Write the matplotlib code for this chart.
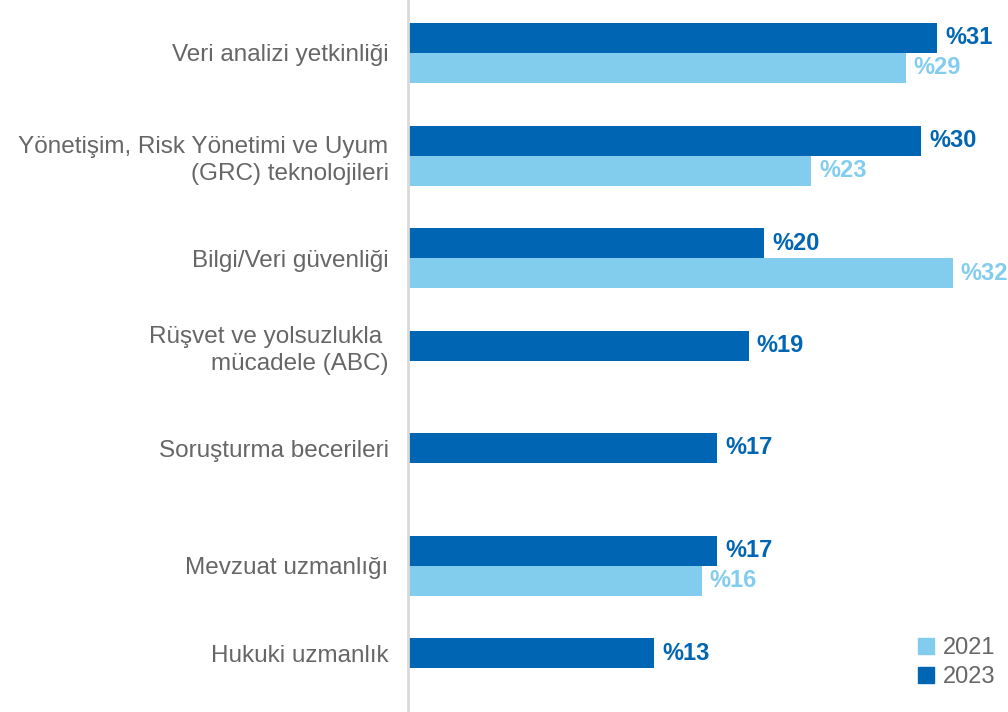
import numpy as np
import matplotlib.pyplot as plt
from matplotlib.patches import Patch

categories = [
    'Veri analizi yetkinliği',
    'Yönetişim, Risk Yönetimi ve Uyum\n(GRC) teknolojileri',
    'Bilgi/Veri güvenliği',
    'Rüşvet ve yolsuzlukla \nmücadele (ABC)',
    'Soruşturma becerileri',
    'Mevzuat uzmanlığı',
    'Hukuki uzmanlık',
]
vals_2023 = [31, 30, 20, 19, 17, 17, 13]
vals_2021 = [29, 23, 32, np.nan, np.nan, 16, np.nan]

c23 = '#0066b3'
c21 = '#82cdee'
gray = '#666666'
plt.rcParams['font.family'] = ['Liberation Sans', 'DejaVu Sans']

fig = plt.figure(figsize=(10.08, 7.12), dpi=100)
ax = fig.add_axes([408 / 1008, 0, 600 / 1008, 1])

# the value axis does not start at zero: bars start at the left edge
x0 = -2.7
centers = 53 + 102.5 * np.arange(len(categories))
h = 30
y23 = centers - h / 2
y21 = centers + h / 2

w23 = np.array(vals_2023, dtype=float) - x0
w21 = np.array(vals_2021, dtype=float) - x0
ax.barh(y23, w23, left=x0, height=h, color=c23)
ax.barh(y21, w21, left=x0, height=h, color=c21)

for y, v in zip(y23, vals_2023):
    ax.text(v + 0.5, y, f'%{v}', color=c23, fontsize=17, fontweight='bold',
            va='center', ha='left')
for y, v in zip(y21, vals_2021):
    if not np.isnan(v):
        ax.text(v + 0.5, y, f'%{int(v)}', color=c21, fontsize=17,
                fontweight='bold', va='center', ha='left')

# label sits at row centre, or on the 2023 bar when 2021 is missing
label_y = [c if not np.isnan(v) else y for c, v, y in zip(centers, vals_2021, y23)]
ax.set_yticks(label_y)
ax.set_yticklabels(categories, fontsize=17.5, color=gray, linespacing=1.3)
ax.tick_params(axis='y', length=0, pad=14)
ax.set_xticks([])

ax.set_xlim(x0, x0 + 600 / 15.7)
ax.set_ylim(712, 0)
for s in ['top', 'right', 'bottom']:
    ax.spines[s].set_visible(False)
ax.spines['left'].set_color('#d9d9d9')
ax.spines['left'].set_linewidth(2)

handles = [Patch(color=c21, label='2021'), Patch(color=c23, label='2023')]
leg = ax.legend(handles=handles, loc='lower right', frameon=False, fontsize=17,
                handlelength=0.65, handleheight=0.65, handletextpad=0.4,
                labelspacing=0.3, borderaxespad=0.0, bbox_to_anchor=(0.995, 0.02))
for t in leg.get_texts():
    t.set_color(gray)

fig.savefig('out.png', dpi=100)
